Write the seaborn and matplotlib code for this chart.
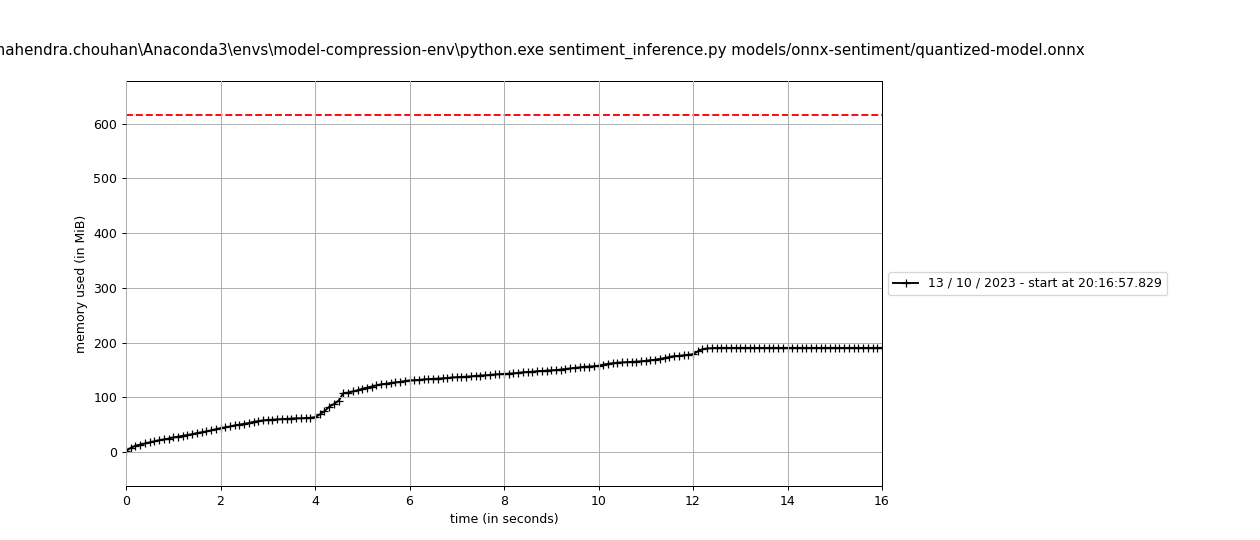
import matplotlib
matplotlib.use("Agg")
import matplotlib.pyplot as plt
import seaborn as sns
import pandas as pd

title_text = ("C:\\Users\\mahendra.chouhan\\Anaconda3\\envs\\model-compression-env\\python.exe "
              "sentiment_inference.py models/onnx-sentiment/quantized-model.onnx")
legend_label = "13 / 10 / 2023 - start at 20:16:57.829"
max_mem_mib = 616.0

mem_mib = [
    2, 8, 12, 14, 16, 18, 20, 22, 23.5, 25,
    27, 28.5, 30, 31.5, 33, 35, 36.5, 38, 40, 42,
    44, 45.5, 47, 49, 50.5, 52, 53.5, 55.5, 57, 58,
    59, 59.5, 60, 60.5, 61, 61.5, 62, 62, 62.5, 63,
    64, 69, 75, 83, 88, 94, 108, 109, 111, 113,
    116, 118, 120, 122, 124, 125, 126.5, 127.5, 128.5, 130,
    131, 131.5, 132, 133, 133.5, 134, 134.5, 135, 135.5, 136.5,
    137, 137.5, 138, 138.5, 139.5, 140, 140.5, 141, 142, 142.5,
    143, 143.5, 144, 145, 146, 146.5, 147, 148, 148.5, 149,
    149.5, 150, 151, 152, 153, 154, 155, 156, 156.5, 157,
    158, 160, 161.5, 162.5, 163.5, 164, 164.5, 165, 165.5, 166,
    167, 168, 169, 170.5, 172, 174, 175.5, 176, 177, 178,
    179, 184, 188, 189.5, 190, 190.5, 190.5, 190.5, 190.5, 190.5,
    190.5, 190.5, 190.5, 190.5, 190.5, 190.5, 190.5, 190.5, 190.5, 190.5,
    190.5, 190.5, 190.5, 190.5, 190.5, 190.5, 190.5, 190.5, 190.5, 190.5,
    190.5, 190.5, 190.5, 190.5, 190.5, 190.5, 190.5, 190.5, 190.5, 190.5,
    190.5,
]
times_s = [
    0.0, 0.1, 0.2, 0.3, 0.4, 0.5, 0.6, 0.7, 0.8, 0.9,
    1.0, 1.1, 1.2, 1.3, 1.4, 1.5, 1.6, 1.7, 1.8, 1.9,
    2.0, 2.1, 2.2, 2.3, 2.4, 2.5, 2.6, 2.7, 2.8, 2.9,
    3.0, 3.1, 3.2, 3.3, 3.4, 3.5, 3.6, 3.7, 3.8, 3.9,
    4.0, 4.1, 4.2, 4.3, 4.4, 4.5, 4.6, 4.7, 4.8, 4.9,
    5.0, 5.1, 5.2, 5.3, 5.4, 5.5, 5.6, 5.7, 5.8, 5.9,
    6.0, 6.1, 6.2, 6.3, 6.4, 6.5, 6.6, 6.7, 6.8, 6.9,
    7.0, 7.1, 7.2, 7.3, 7.4, 7.5, 7.6, 7.7, 7.8, 7.9,
    8.0, 8.1, 8.2, 8.3, 8.4, 8.5, 8.6, 8.7, 8.8, 8.9,
    9.0, 9.1, 9.2, 9.3, 9.4, 9.5, 9.6, 9.7, 9.8, 9.9,
    10.0, 10.1, 10.2, 10.3, 10.4, 10.5, 10.6, 10.7, 10.8, 10.9,
    11.0, 11.1, 11.2, 11.3, 11.4, 11.5, 11.6, 11.7, 11.8, 11.9,
    12.0, 12.1, 12.2, 12.3, 12.4, 12.5, 12.6, 12.7, 12.8, 12.9,
    13.0, 13.1, 13.2, 13.3, 13.4, 13.5, 13.6, 13.7, 13.8, 13.9,
    14.0, 14.1, 14.2, 14.3, 14.4, 14.5, 14.6, 14.7, 14.8, 14.9,
    15.0, 15.1, 15.2, 15.3, 15.4, 15.5, 15.6, 15.7, 15.8, 15.9,
    16.0,
]

df = pd.DataFrame({"time": times_s, "mem": mem_mib})

fig = plt.figure(figsize=(14, 6), dpi=90)
ax = fig.add_axes([0.1, 0.1, 0.6, 0.75])

sns.lineplot(data=df, x="time", y="mem", ax=ax, color="k", marker="+",
             markersize=7, markeredgewidth=1.0, markeredgecolor="k",
             linewidth=1.5, label=legend_label, estimator=None, sort=False)
ax.axhline(max_mem_mib, color="r", linestyle="--", linewidth=1.5)

ax.set_xlim(0, 16)
ax.set_ylim(-61.6, 677.6)
ax.set_xlabel("time (in seconds)")
ax.set_ylabel("memory used (in MiB)")
ax.set_title(title_text, fontsize=12, pad=20.7)
ax.grid(True)
ax.set_axisbelow(False)
ax.legend(loc="center left", bbox_to_anchor=(1, 0.5))

fig.savefig("out.png", dpi=90)
